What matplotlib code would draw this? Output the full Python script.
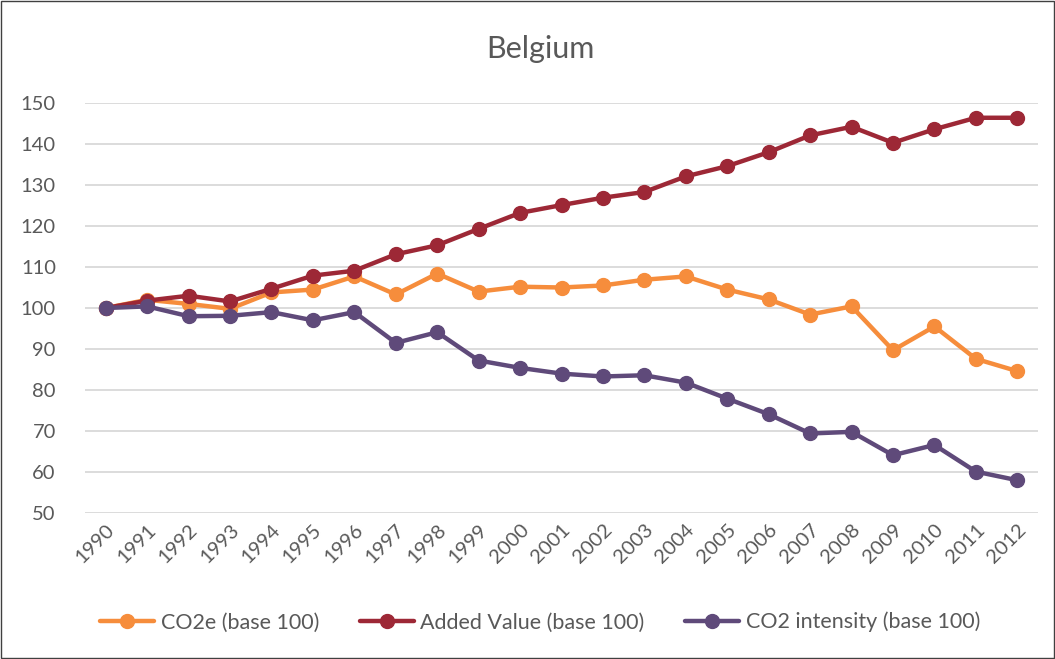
import matplotlib.pyplot as plt
from matplotlib.patches import Rectangle
import numpy as np

plt.rcParams['font.family'] = ['Lato', 'DejaVu Sans']

years = [str(y) for y in range(1990, 2013)]
co2e = [100, 102.0, 101.0, 99.8, 103.8, 104.5, 107.7, 103.3, 108.4, 104.0, 105.2, 105.0,
        105.5, 106.9, 107.7, 104.5, 102.1, 98.4, 100.4, 89.7, 95.5, 87.6, 84.6]
added_value = [100, 101.8, 103.0, 101.6, 104.7, 107.9, 109.1, 113.1, 115.3, 119.3, 123.2, 125.1,
               126.9, 128.3, 132.1, 134.6, 138.0, 142.1, 144.2, 140.3, 143.6, 146.4, 146.4]
co2_intensity = [100, 100.4, 98.0, 98.1, 99.0, 97.0, 99.0, 91.5, 94.1, 87.2, 85.4, 84.0,
                 83.3, 83.6, 81.8, 77.9, 74.1, 69.4, 69.8, 64.1, 66.6, 60.1, 58.0]

series = [
    ("CO2e (base 100)", co2e, '#F68D3C'),
    ("Added Value (base 100)", added_value, '#9D2836'),
    ("CO2 intensity (base 100)", co2_intensity, '#5F4A7A'),
]

fig = plt.figure(figsize=(10.55, 6.59), dpi=100)
ax = fig.add_axes([0.0806, 0.2215, 0.9033, 0.6222])

x = np.arange(len(years))
for label, vals, col in series:
    ax.plot(x, vals, color=col, lw=3.2, marker='o', markersize=10, label=label,
            solid_capstyle='round')

ax.set_xlim(-0.5, len(years) - 0.5)
ax.set_ylim(50, 150)
ax.set_yticks(range(50, 151, 10))
ax.set_xticks(x)
ax.set_xticklabels(years, rotation=45, ha='right', rotation_mode='anchor')
ax.grid(axis='y', color='#D9D9D9', lw=1.3)
ax.set_axisbelow(True)
for s in ax.spines.values():
    s.set_visible(False)
ax.tick_params(length=0, colors='#595959', labelsize=14.5)
ax.tick_params(axis='y', pad=21)
ax.tick_params(axis='x', pad=6)

fig.text(0.512, 0.926, "Belgium", ha='center', va='center', fontsize=22, color='#595959')

leg = fig.legend(loc='center', bbox_to_anchor=(0.512, 0.056), ncol=3, frameon=False,
                 fontsize=15.5, handlelength=2.5, columnspacing=1.9, handletextpad=0.3)
for t in leg.get_texts():
    t.set_color('#595959')

fig.patches.append(Rectangle((0.001, 0.001), 0.998, 0.997, transform=fig.transFigure,
                             fill=False, edgecolor='#404040', lw=1))

fig.savefig('out.png', dpi=100)
